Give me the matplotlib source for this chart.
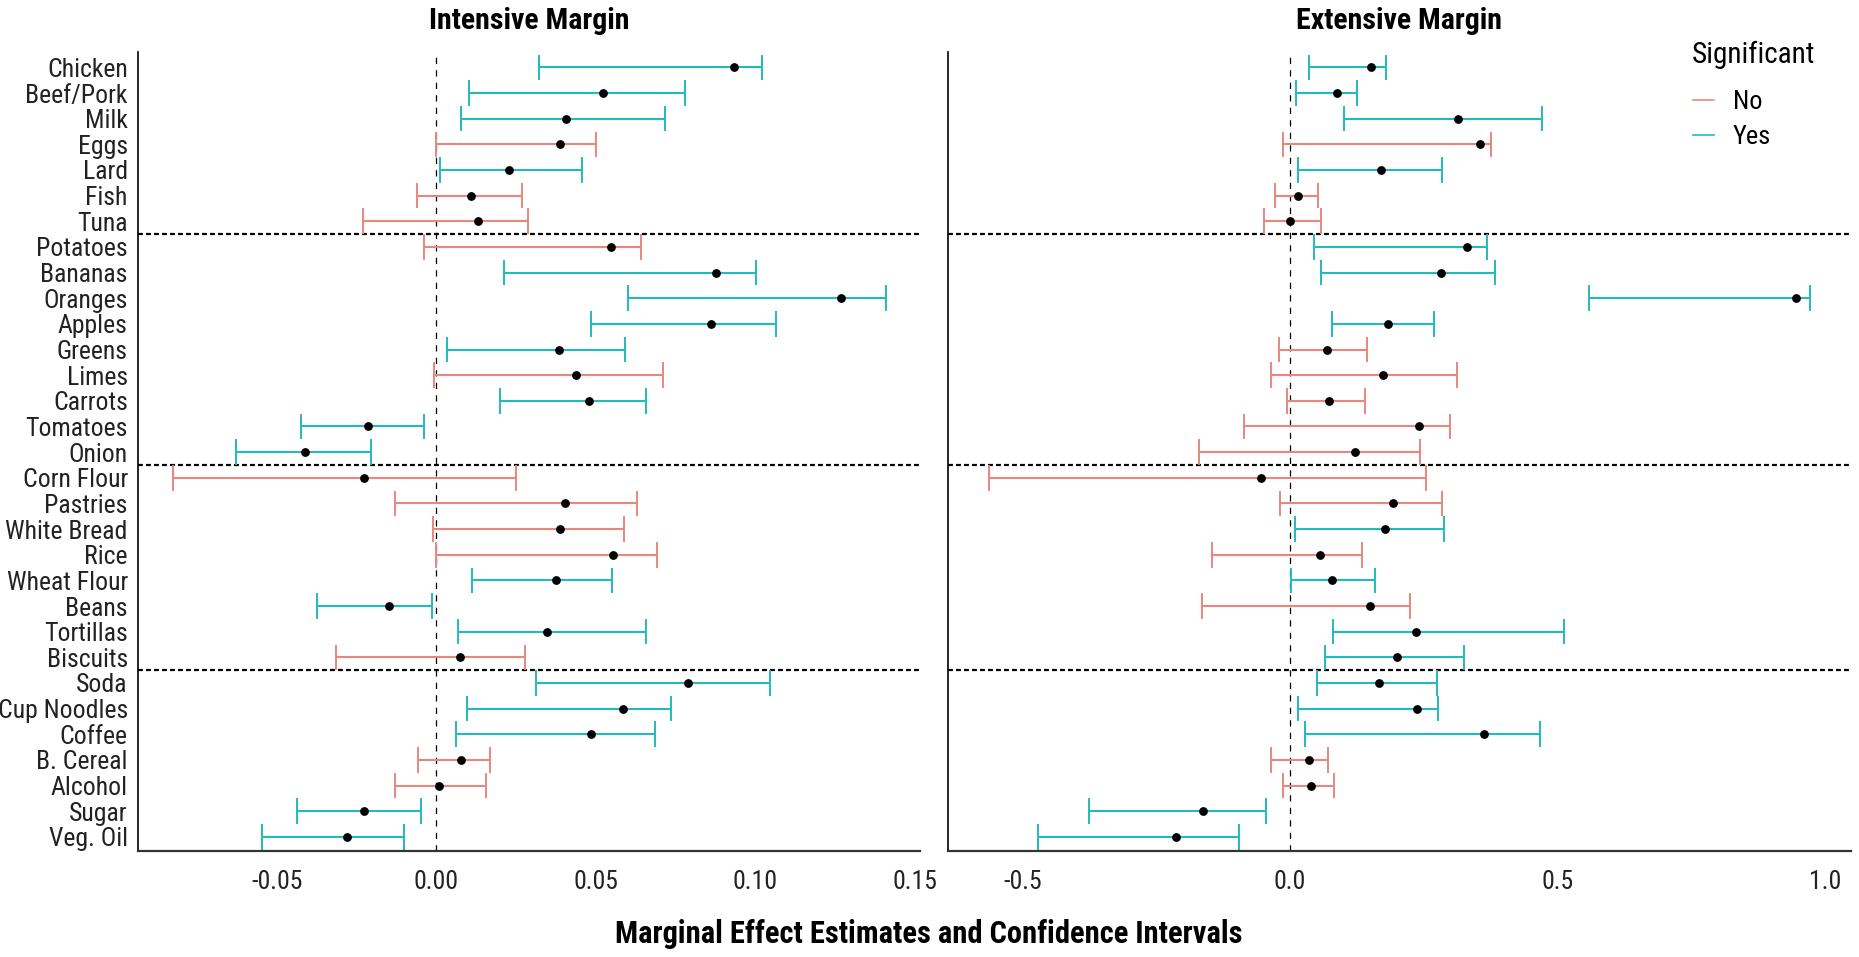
import numpy as np
import matplotlib
matplotlib.use('Agg')
import matplotlib.pyplot as plt
from matplotlib.lines import Line2D
from matplotlib import font_manager

# the reference uses a narrow Arial-like face; use a condensed one if installed
installed = {f.name for f in font_manager.fontManager.ttflist}
narrow = None
for name in ['Liberation Sans Narrow', 'Roboto Condensed', 'Open Sans Condensed', 'Arial Narrow']:
    if name in installed:
        narrow = name
        break
if narrow:
    plt.rcParams['font.family'] = [narrow, 'Liberation Sans', 'DejaVu Sans']
    shrink = 1.0
else:
    plt.rcParams['font.family'] = ['Liberation Sans', 'DejaVu Sans']
    shrink = 0.8

foods = ["Chicken", "Beef/Pork", "Milk", "Eggs", "Lard", "Fish", "Tuna",
         "Potatoes", "Bananas", "Oranges", "Apples", "Greens", "Limes", "Carrots", "Tomatoes", "Onion",
         "Corn Flour", "Pastries", "White Bread", "Rice", "Wheat Flour", "Beans", "Tortillas", "Biscuits",
         "Soda", "Cup Noodles", "Coffee", "B. Cereal", "Alcohol", "Sugar", "Veg. Oil"]

# Intensive margin: estimate, lower, upper, significant
int_est = [0.0933, 0.0521, 0.0406, 0.0389, 0.0226, 0.0107, 0.0131,
           0.0546, 0.0877, 0.1269, 0.0860, 0.0385, 0.0437, 0.0477, -0.0215, -0.0411,
           -0.0228, 0.0402, 0.0387, 0.0553, 0.0374, -0.0148, 0.0346, 0.0073,
           0.0789, 0.0585, 0.0486, 0.0077, 0.0007, -0.0228, -0.0282]
int_lo = [0.0321, 0.0101, 0.0077, -0.0002, 0.0011, -0.0062, -0.0232,
          -0.0039, 0.0211, 0.0602, 0.0486, 0.0032, -0.0009, 0.0200, -0.0426, -0.0628,
          -0.0828, -0.0131, -0.0011, -0.0002, 0.0110, -0.0374, 0.0067, -0.0314,
          0.0312, 0.0095, 0.0060, -0.0058, -0.0129, -0.0439, -0.0546]
int_hi = [0.1022, 0.0781, 0.0716, 0.0501, 0.0458, 0.0269, 0.0286,
          0.0641, 0.1004, 0.1409, 0.1065, 0.0593, 0.0712, 0.0656, -0.0039, -0.0204,
          0.0250, 0.0630, 0.0589, 0.0693, 0.0550, -0.0015, 0.0656, 0.0279,
          0.1045, 0.0735, 0.0686, 0.0168, 0.0155, -0.0047, -0.0103]
int_sig = ["Yes", "Yes", "Yes", "No", "Yes", "No", "No",
           "No", "Yes", "Yes", "Yes", "Yes", "No", "Yes", "Yes", "Yes",
           "No", "No", "No", "No", "Yes", "Yes", "Yes", "No",
           "Yes", "Yes", "Yes", "No", "No", "Yes", "Yes"]

# Extensive margin
ext_est = [0.152, 0.0876, 0.315, 0.355, 0.171, 0.0144, 0.000,
           0.331, 0.282, 0.947, 0.184, 0.0687, 0.175, 0.0732, 0.242, 0.121,
           -0.0543, 0.192, 0.177, 0.0565, 0.0787, 0.149, 0.235, 0.200,
           0.166, 0.237, 0.363, 0.0366, 0.0388, -0.163, -0.212]
ext_lo = [0.0355, 0.012, 0.102, -0.0133, 0.0155, -0.0277, -0.0488,
          0.0455, 0.0576, 0.559, 0.0787, -0.0211, -0.0344, -0.0055, -0.0854, -0.169,
          -0.562, -0.0177, 0.010, -0.146, 0.0022, -0.164, 0.081, 0.0665,
          0.050, 0.0155, 0.0288, -0.0344, -0.0133, -0.375, -0.470]
ext_hi = [0.180, 0.125, 0.471, 0.376, 0.284, 0.0521, 0.0576,
          0.369, 0.384, 0.972, 0.269, 0.144, 0.312, 0.140, 0.300, 0.244,
          0.255, 0.284, 0.288, 0.135, 0.159, 0.225, 0.512, 0.325,
          0.275, 0.277, 0.467, 0.071, 0.082, -0.0443, -0.0942]
ext_sig = ["Yes", "Yes", "Yes", "No", "Yes", "No", "No",
           "Yes", "Yes", "Yes", "Yes", "No", "No", "No", "No", "No",
           "No", "No", "Yes", "No", "Yes", "No", "Yes", "Yes",
           "Yes", "Yes", "Yes", "No", "No", "Yes", "Yes"]

group_breaks = [6.5, 15.5, 23.5]
sig_colors = {"No": "#E9877F", "Yes": "#24B9BC"}


def draw_panel(ax, est, lo, hi, sig, xlim, xticks, xticklabels, title, title_x):
    y = np.arange(len(foods))
    for i in range(len(foods)):
        c = sig_colors[sig[i]]
        ax.plot([lo[i], hi[i]], [y[i], y[i]], color=c, lw=1.5, solid_capstyle='butt', zorder=2)
        ax.plot([lo[i], lo[i]], [y[i] - 0.46, y[i] + 0.46], color=c, lw=1.4, zorder=2)
        ax.plot([hi[i], hi[i]], [y[i] - 0.46, y[i] + 0.46], color=c, lw=1.4, zorder=2)
    ax.plot(est, y, 'o', color='black', ms=5.3, zorder=3)
    ax.axvline(0, color='black', lw=0.9, ls=(0, (5, 5)), zorder=1)
    for b in group_breaks:
        ax.axhline(b, color='black', lw=1.6, ls=(0, (2.2, 1.4)), zorder=1)
    ax.set_ylim(len(foods) - 1 + 0.55, -0.6)
    ax.set_xlim(*xlim)
    ax.set_xticks(xticks)
    ax.set_xticklabels(xticklabels)
    ax.tick_params(axis='both', length=0, labelsize=18.5 * shrink, colors='#222222')
    ax.tick_params(axis='x', pad=14)
    ax.tick_params(axis='y', pad=7)
    for s in ['top', 'right']:
        ax.spines[s].set_visible(False)
    ax.spines['left'].set_color('black')
    ax.spines['left'].set_linewidth(1.2)
    ax.spines['bottom'].set_color('#333333')
    ax.spines['bottom'].set_linewidth(1.6)
    fig.text(title_x, 1 - 21 / 957, title, ha='center', va='center',
             fontsize=21.5 * shrink, fontweight='bold')


fig = plt.figure(figsize=(18.59, 9.57), dpi=100)
ax1 = fig.add_axes([137.5 / 1859, 106 / 957, 782.5 / 1859, 799 / 957])
ax2 = fig.add_axes([948 / 1859, 106 / 957, 903 / 1859, 799 / 957])

draw_panel(ax1, int_est, int_lo, int_hi, int_sig, (-0.0938, 0.1517),
           [-0.05, 0.0, 0.05, 0.10, 0.15], ["-0.05", "0.00", "0.05", "0.10", "0.15"],
           "Intensive Margin", 529 / 1859)
ax1.set_yticks(np.arange(len(foods)))
ax1.set_yticklabels(foods)

draw_panel(ax2, ext_est, ext_lo, ext_hi, ext_sig, (-0.639, 1.049),
           [-0.5, 0.0, 0.5, 1.0], ["-0.5", "0.0", "0.5", "1.0"],
           "Extensive Margin", 1399 / 1859)
ax2.set_yticks([])

# legend: title placed as its own text, keys below it
fig.text(1692 / 1859, 1 - 55 / 957, "Significant", ha='left', va='center',
         fontsize=21 * shrink)
handles = [Line2D([], [], color=sig_colors["No"], lw=1.2),
           Line2D([], [], color=sig_colors["Yes"], lw=1.2)]
leg = ax2.legend(handles, ["No", "Yes"], frameon=False,
                 loc='upper left', bbox_to_anchor=(1680 / 1859, 1 - 77 / 957),
                 bbox_transform=fig.transFigure, fontsize=19 * shrink,
                 handlelength=0.8, handletextpad=0.7, labelspacing=0.42,
                 borderpad=0)

fig.text(929 / 1859, 1 - 934 / 957, "Marginal Effect Estimates and Confidence Intervals",
         ha='center', va='center', fontsize=22 * shrink, fontweight='bold')

fig.savefig("out.png", dpi=100, facecolor='white')
